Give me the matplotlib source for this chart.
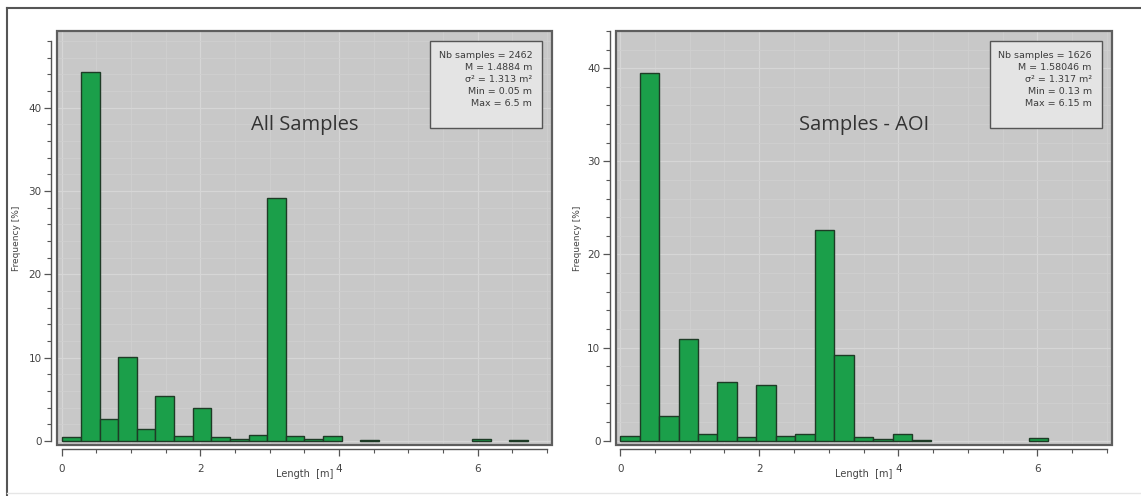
import numpy as np
import matplotlib
matplotlib.use('Agg')
import matplotlib.pyplot as plt
from matplotlib.patches import Rectangle
from matplotlib.lines import Line2D
from matplotlib.ticker import MultipleLocator

# histogram bins (start, width) and frequencies [%]
all_start = 0.01
all_width = 0.2686
all_freq = [0.5, 44.3, 2.6, 10.1, 1.5, 5.45, 0.55, 4.0, 0.5, 0.2, 0.7, 29.2,
            0.55, 0.2, 0.55, 0.0, 0.1, 0.0, 0.0, 0.0, 0.0, 0.0, 0.2, 0.0, 0.1]

aoi_start = 0.0
aoi_width = 0.2798
aoi_freq = [0.5, 39.5, 2.7, 10.9, 0.7, 6.3, 0.35, 6.0, 0.5, 0.7, 22.6, 9.25,
            0.35, 0.2, 0.7, 0.1, 0.0, 0.0, 0.0, 0.0, 0.0, 0.3]

all_stats = ["Nb samples = 2462", "M = 1.4884 m", "σ² = 1.313 m²",
             "Min = 0.05 m", "Max = 6.5 m"]
aoi_stats = ["Nb samples = 1626", "M = 1.58046 m", "σ² = 1.317 m²",
             "Min = 0.13 m", "Max = 6.15 m"]

titles = ["All Samples", "Samples - AOI"]

BG = '#c8c8c8'
GREEN = '#1b9f4a'
EDGE = '#1e3b26'
TXT = '#444444'


def draw_hist(ax, start, width, freq, stats, title, ylim, ytop, xlab_y):
    freq = np.array(freq)
    left = start + width * np.arange(len(freq))
    keep = freq > 0
    ax.bar(left[keep], freq[keep], width=width, align='edge',
           color=GREEN, edgecolor=EDGE, linewidth=1.0, zorder=3)

    ax.set_facecolor(BG)
    ax.set_xlim(-0.065, 7.07)
    ax.set_ylim(*ylim)

    ax.xaxis.set_major_locator(MultipleLocator(2))
    ax.xaxis.set_minor_locator(MultipleLocator(0.5))
    ax.yaxis.set_major_locator(MultipleLocator(10))
    ax.yaxis.set_minor_locator(MultipleLocator(2))

    ax.grid(which='major', color='#d6d6d6', lw=0.9, zorder=0)
    ax.grid(which='minor', color='#d0d0d0', lw=0.6, zorder=0)
    ax.set_axisbelow(True)

    for s in ['top', 'right']:
        ax.spines[s].set_visible(False)
    ax.spines['left'].set_position(('outward', 4))
    ax.spines['bottom'].set_position(('outward', 3))
    ax.spines['left'].set_bounds(0, ytop)
    ax.spines['bottom'].set_bounds(0, 7)
    for s in ['left', 'bottom']:
        ax.spines[s].set_color('#555555')
        ax.spines[s].set_linewidth(1.0)

    ax.tick_params(which='major', length=5, width=0.9, color='#555555',
                   labelsize=7.5, labelcolor=TXT, pad=2)
    ax.tick_params(which='minor', length=3, width=0.8, color='#555555')
    ax.tick_params(axis='x', which='major', pad=6)

    # plot area frame
    ax.add_patch(Rectangle((0, 0), 1, 1, transform=ax.transAxes, fill=False,
                           edgecolor='#5e5e5e', lw=1.6, zorder=5, clip_on=False))

    ax.set_xlabel("Length  [m]", fontsize=7, color=TXT)
    ax.xaxis.set_label_coords(0.5, xlab_y)
    ax.set_ylabel("Frequency [%]", fontsize=6.5, color=TXT)
    ax.yaxis.label.set_va('center')

    ax.text(0.5, 0.773, title, transform=ax.transAxes, ha='center', va='center',
            fontsize=14.5, color='#333333', family='Open Sans', zorder=6)

    # statistics box
    ax.add_patch(Rectangle((0.754, 0.765), 0.226, 0.21, transform=ax.transAxes,
                           facecolor='#e4e4e4', edgecolor='#555555', lw=1.0, zorder=6))
    ax.text(0.96, 0.952, "\n".join(stats), transform=ax.transAxes, ha='right',
            va='top', fontsize=6.8, color='#3c3c3c', linespacing=1.42, zorder=7)


fig = plt.figure(figsize=(11.41, 4.96), dpi=100)
fig.patch.set_facecolor('white')

ax1 = fig.add_axes([0.0500, 0.1028, 0.4338, 0.8347])
ax2 = fig.add_axes([0.5396, 0.1028, 0.4347, 0.8347])

draw_hist(ax1, all_start, all_width, all_freq, all_stats, titles[0],
          (-0.48, 49.2), 48, -0.058)
draw_hist(ax2, aoi_start, aoi_width, aoi_freq, aoi_stats, titles[1],
          (-0.46, 44.0), 44, -0.058)
ax1.yaxis.set_label_coords(-0.081, 0.5)
ax2.yaxis.set_label_coords(-0.076, 0.5)

# outer border
fig.add_artist(Line2D([7 / 1141, 1.0], [1 - 8 / 496, 1 - 8 / 496],
                      transform=fig.transFigure, color='#555555', lw=1.5))
fig.add_artist(Line2D([7 / 1141, 7 / 1141], [0.0, 1 - 8 / 496],
                      transform=fig.transFigure, color='#555555', lw=1.5))
fig.add_artist(Line2D([7 / 1141, 1.0], [3 / 496, 3 / 496],
                      transform=fig.transFigure, color='#e6e6e6', lw=1.0))

fig.savefig('out.png', dpi=100)
